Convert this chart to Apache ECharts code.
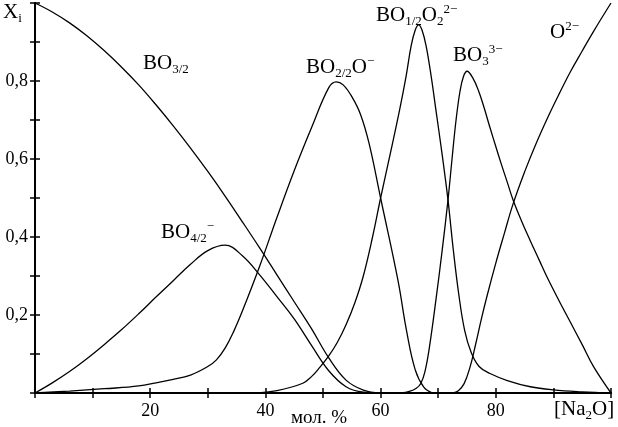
<!DOCTYPE html>
<html>
<head>
<meta charset="utf-8">
<script src="https://cdn.jsdelivr.net/npm/echarts@6/dist/echarts.min.js"></script>
<style>
  html, body { margin: 0; padding: 0; background: #fff; }
  #chart { width: 618px; height: 427px; }
</style>
</head>
<body>
<div id="chart"></div>
<script>
// доли структурных единиц, [Na2O, X_i]
const bo32 = [[0, 1.0], [3, 0.977], [6, 0.949], [9, 0.916], [12, 0.878], [15, 0.836], [18, 0.79], [21, 0.739],
  [24, 0.685], [27, 0.628], [30, 0.568], [33, 0.505], [36, 0.439], [39, 0.372], [42, 0.303], [45, 0.234],
  [48, 0.165], [51, 0.09], [54, 0.033], [57, 0.0075], [60, 0]]
const bo42 = [[0, 0], [3, 0.026], [6, 0.055], [9, 0.088], [12, 0.124], [15, 0.162], [18, 0.203], [21, 0.246],
  [24, 0.288], [27, 0.33], [30, 0.365], [33, 0.379], [36, 0.352], [39, 0.303], [42, 0.247], [45, 0.19],
  [48, 0.122], [51, 0.057], [54, 0.016], [57, 0.002], [60, 0]]
const bo22o = [[0, 0], [6, 0.005], [12, 0.011], [18, 0.018], [24, 0.035], [27, 0.046], [30, 0.068], [31.5, 0.085],
  [33, 0.115], [34.5, 0.158], [36, 0.21], [39, 0.325], [42, 0.45], [45, 0.57], [48, 0.68], [51, 0.783],
  [52.3, 0.798], [53.5, 0.79], [55, 0.76], [56.5, 0.715], [58, 0.64], [60, 0.5], [63, 0.29], [64.5, 0.16],
  [66, 0.06], [67.5, 0.015], [69, 0]]
const bo12o2 = [[38, 0], [42, 0.006], [46.5, 0.025], [48, 0.042], [49.4, 0.065], [51, 0.095], [52.5, 0.13],
  [54, 0.175], [55.5, 0.23], [57, 0.3], [58.6, 0.4], [60, 0.5], [61.7, 0.615], [63.3, 0.726], [64.4, 0.81],
  [65.3, 0.89], [66, 0.93], [66.6, 0.944], [67.2, 0.93], [67.9, 0.89], [68.8, 0.81], [69.6, 0.726], [70.7, 0.61],
  [71.7, 0.495], [72.6, 0.37], [73.6, 0.25], [74.6, 0.16], [75.7, 0.105], [77.1, 0.068], [79, 0.05], [82, 0.032],
  [86, 0.016], [90, 0.008], [95, 0.003], [100, 0]]
const bo3 = [[63.5, 0], [65, 0.004], [66.2, 0.012], [67, 0.025], [67.7, 0.055], [68.4, 0.11], [69.6, 0.238],
  [70.7, 0.367], [71.7, 0.495], [72.4, 0.6], [73.1, 0.7], [73.8, 0.775], [74.4, 0.812], [75, 0.825],
  [76, 0.808], [77, 0.775], [78, 0.73], [79, 0.68], [80, 0.632], [81, 0.585], [82, 0.54], [83, 0.495],
  [84.5, 0.44], [86, 0.39], [87.5, 0.342], [89, 0.294], [91, 0.236], [93, 0.18], [95, 0.124], [97, 0.067], [100, 0]]
const o2 = [[72.5, 0], [73.5, 0.006], [74.5, 0.024], [75.5, 0.065], [76.5, 0.125], [77.5, 0.19], [78.5, 0.25],
  [80, 0.333], [81.5, 0.41], [83, 0.485], [85, 0.567], [87, 0.64], [89, 0.706], [91, 0.767], [93, 0.825],
  [95, 0.877], [97, 0.928], [100, 1.0]]

const serif = '"Liberation Serif", "DejaVu Serif", serif'

// подписи кривых: rich-текст с индексами
const big = { fontFamily: serif, fontSize: 21, lineHeight: 25, verticalAlign: 'middle', color: '#000' }
const sub = { fontFamily: serif, fontSize: 13, lineHeight: 12, verticalAlign: 'bottom', color: '#000' }
const sup = { fontFamily: serif, fontSize: 13, lineHeight: 12, verticalAlign: 'top', color: '#000' }
const rich = { b: big, s: sub, p: sup }

const label = (left, top, text) => ({
  type: 'text', left, top, silent: true,
  style: { text, rich, fill: '#000' },
})

const axisLine = { lineStyle: { color: '#000', width: 2 } }
const axisTick = { inside: true, length: 5, lineStyle: { color: '#000', width: 1.5 } }
const minorTick = { show: true, splitNumber: 2, length: 5, lineStyle: { color: '#000', width: 1.5 } }
const tickFont = { fontFamily: serif, fontSize: 18, color: '#000' }

const curve = (data) => ({
  type: 'line', data, showSymbol: false, smooth: 0.4,
  lineStyle: { color: '#000', width: 1.3 }, animation: false,
})

const chart = echarts.init(document.getElementById('chart'))
chart.setOption({
  animation: false,
  grid: { left: 35, right: 7, top: 3, bottom: 34 },
  xAxis: [
    {
      type: 'value', min: 0, max: 100, interval: 20, position: 'bottom',
      axisLine, axisTick, minorTick, splitLine: { show: false },
      axisLabel: { ...tickFont, margin: 9, showMinLabel: false, showMaxLabel: false },
    },
    {
      type: 'value', min: 0, max: 100, interval: 20, position: 'top',
      axisLine, axisTick, minorTick, splitLine: { show: false }, axisLabel: { show: false },
    },
  ],
  yAxis: [
    {
      type: 'value', min: 0, max: 1, interval: 0.2, position: 'left',
      axisLine: { show: true, ...axisLine }, axisTick, minorTick, splitLine: { show: false },
      axisLabel: {
        ...tickFont, margin: 7, showMinLabel: false, showMaxLabel: false,
        formatter: (v) => v.toFixed(1).replace('.', ','),
      },
    },
    {
      type: 'value', min: 0, max: 1, interval: 0.2, position: 'right',
      axisLine: { show: true, ...axisLine }, axisTick, minorTick, splitLine: { show: false },
      axisLabel: { show: false },
    },
  ],
  series: [curve(bo32), curve(bo42), curve(bo22o), curve(bo12o2), curve(bo3), curve(o2)],
  graphic: [
    label(3, 2, '{b|X}{s|i}'),
    label(143, 53, '{b|BO}{s|3/2}'),
    label(306, 55, '{b|BO}{s|2/2}{b|O}{p|−}'),
    label(376, 3, '{b|BO}{s|1/2}{b|O}{s|2}{p|2−}'),
    label(453, 43, '{b|BO}{s|3}{p|3−}'),
    label(550, 20, '{b|O}{p|2−}'),
    label(161, 220, '{b|BO}{s|4/2}{p|−}'),
    {
      type: 'text', left: 291, top: 409, silent: true,
      style: { text: 'мол. %', font: '19px ' + serif, fill: '#000' },
    },
    label(554, 399, '{b|[Na}{s|2}{b|O]}'),
  ],
})
</script>
</body>
</html>
